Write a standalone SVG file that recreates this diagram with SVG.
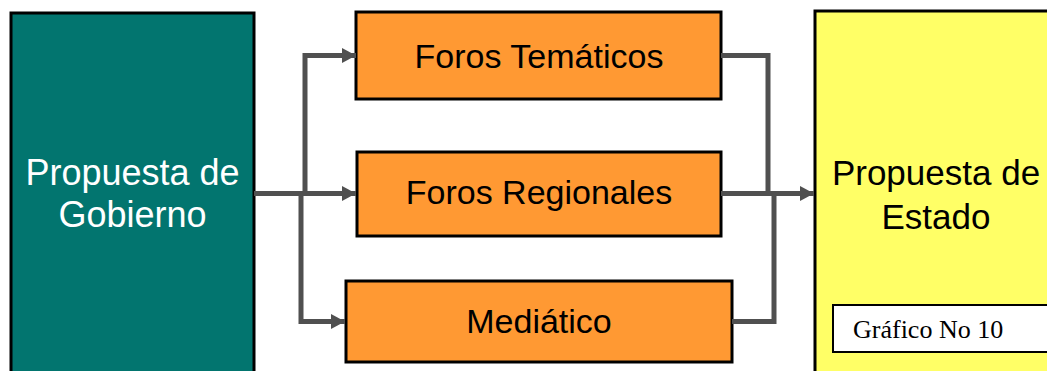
<svg xmlns="http://www.w3.org/2000/svg" width="1047" height="371" viewBox="0 0 1047 371">
<style>
.box{stroke:#000;stroke-width:3}
.t{font-family:"Liberation Sans",Arial,sans-serif;text-anchor:middle}
.c{fill:none;stroke:#505050;stroke-width:5}
</style>
<defs>
<marker id="ah" markerWidth="14" markerHeight="15" refX="14" refY="7.5" orient="auto" markerUnits="userSpaceOnUse">
<path d="M0,0 L14,7.5 L0,15 Z" fill="#505050"/>
</marker>
</defs>
<rect width="1047" height="371" fill="#fff"/>
<g id="gobierno">
<rect class="box" x="11" y="13" width="243" height="370" fill="#02756F"/>
<text class="t" x="132.5" y="185" font-size="36" fill="#fff">Propuesta de</text>
<text class="t" x="132.5" y="227" font-size="36" fill="#fff">Gobierno</text>
</g>
<g id="tematicos">
<rect class="box" x="356" y="12" width="365" height="87" fill="#FF9933"/>
<text class="t" x="539" y="68" font-size="34" fill="#000">Foros Temáticos</text>
</g>
<g id="regionales">
<rect class="box" x="357" y="152" width="364" height="84" fill="#FF9933"/>
<text class="t" x="539" y="204" font-size="34" fill="#000">Foros Regionales</text>
</g>
<g id="mediatico">
<rect class="box" x="346" y="281" width="386" height="81" fill="#FF9933"/>
<text class="t" x="539" y="333" font-size="34" fill="#000">Mediático</text>
</g>
<g id="estado">
<rect class="box" x="815" y="11" width="260" height="380" fill="#FFFF66"/>
<text class="t" x="936" y="185" font-size="35" fill="#000">Propuesta de</text>
<text class="t" x="936" y="229" font-size="35" fill="#000">Estado</text>
</g>
<g id="grafico">
<rect x="833" y="305" width="230" height="47" fill="#fff" stroke="#000" stroke-width="2"/>
<text x="853" y="338" font-family="Liberation Serif,'Times New Roman',serif" font-size="26" fill="#000">Gráfico No 10</text>
</g>
<g id="connectors">
<path class="c" d="M254,193.5 H356" marker-end="url(#ah)"/>
<path class="c" d="M305,193.5 V55.5 H356" marker-end="url(#ah)"/>
<path class="c" d="M301,193.5 V321.5 H345" marker-end="url(#ah)"/>
<path class="c" d="M721,55.5 H768 V193.5"/>
<path class="c" d="M732,321.5 H774 V193.5"/>
<path class="c" d="M721,193.5 H814" marker-end="url(#ah)"/>
</g>
</svg>
